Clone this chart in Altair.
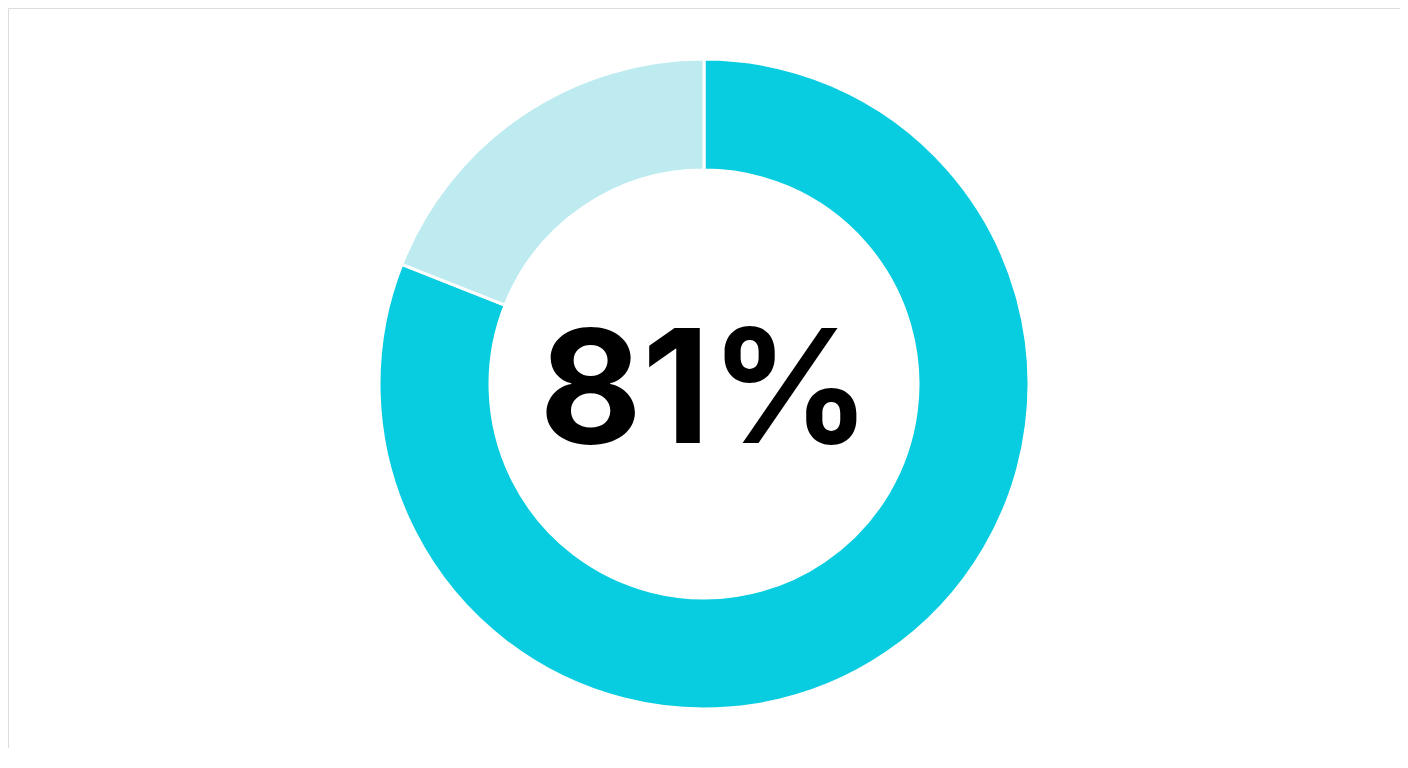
import altair as alt
import pandas as pd

segments = ["Yes", "No"]
values = [81, 19]
colors = ["#08CCE0", "#BDEBF0"]
label = "81%"

df = pd.DataFrame({"segment": segments, "value": values, "order": [0, 1]})

base = alt.Chart(df)

donut = base.mark_arc(
    innerRadius=214, outerRadius=325, stroke="white", strokeWidth=3
).encode(
    theta=alt.Theta("value:Q", stack=True),
    order=alt.Order("order:Q"),
    color=alt.Color("segment:N", scale=alt.Scale(domain=segments, range=colors), legend=None),
    x=alt.value(696),
    y=alt.value(376),
)

text = alt.Chart(pd.DataFrame({"t": [label]})).mark_text(
    font="Inter", fontSize=158, fontWeight="bold", color="#000000", baseline="middle", align="center"
).encode(text="t:N", x=alt.value(697), y=alt.value(388))

chart = alt.layer(donut, text).properties(
    width=1392, height=740, padding=0, autosize=alt.AutoSizeParams(type="none")
).configure_view(stroke=None, strokeOpacity=0, strokeWidth=0).configure(background="#FFFFFF")

chart.save("out.html", embed_options={"renderer": "svg", "actions": False})
